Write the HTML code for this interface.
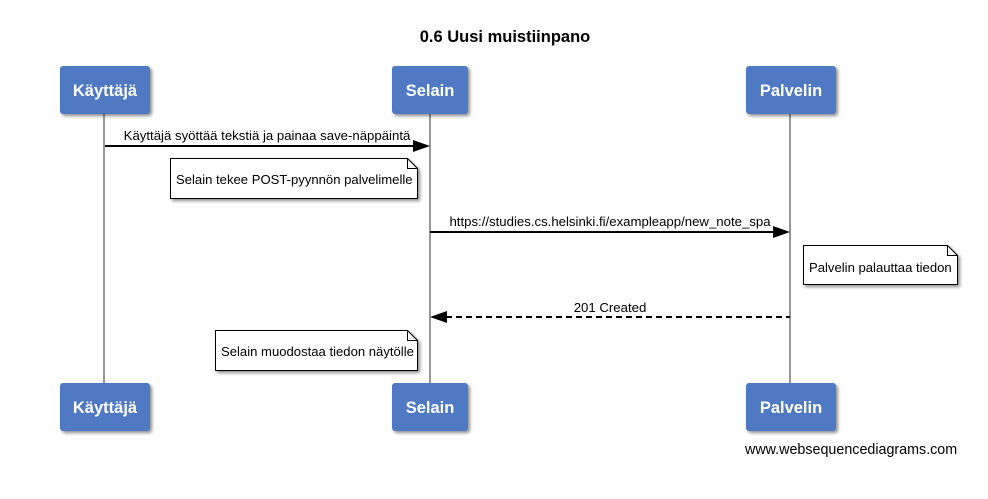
<!DOCTYPE html>
<html><head><meta charset="utf-8"><style>body{margin:0;background:#fff}svg{display:block}text{font-family:"Liberation Sans",sans-serif}</style></head><body>
<svg width="988" height="499" xmlns="http://www.w3.org/2000/svg">
<defs><filter id="s" x="-20%" y="-20%" width="150%" height="150%"><feDropShadow dx="2" dy="2" stdDeviation="1.5" flood-color="#000" flood-opacity="0.45"/></filter></defs>
<text x="505" y="42" font-size="16.5" font-weight="bold" text-anchor="middle">0.6 Uusi muistiinpano</text>
<g stroke="#999" stroke-width="2"><line x1="104" y1="114" x2="104" y2="383"/><line x1="430" y1="114" x2="430" y2="383"/><line x1="790" y1="114" x2="790" y2="383"/></g>
<g fill="#4f79c3" filter="url(#s)">
<rect x="60" y="66" width="90" height="48" rx="3"/><rect x="392" y="66" width="76" height="48" rx="3"/><rect x="746" y="66" width="90" height="48" rx="3"/>
<rect x="60" y="383" width="90" height="48" rx="3"/><rect x="392" y="383" width="76" height="48" rx="3"/><rect x="746" y="383" width="90" height="48" rx="3"/>
</g>
<g fill="#fff" font-size="16.5" font-weight="bold" text-anchor="middle">
<text x="105" y="96">Käyttäjä</text><text x="430" y="96">Selain</text><text x="791" y="96">Palvelin</text>
<text x="105" y="413">Käyttäjä</text><text x="430" y="413">Selain</text><text x="791" y="413">Palvelin</text>
</g>
<line x1="105" y1="146" x2="414" y2="146" stroke="#000" stroke-width="2"/><polygon points="430,146 413,140 413,152" fill="#000"/>
<text x="267" y="140" font-size="13.2" text-anchor="middle">Käyttäjä syöttää tekstiä ja painaa save-näppäintä</text>
<line x1="430" y1="232" x2="774" y2="232" stroke="#000" stroke-width="2"/><polygon points="790,232 773,226 773,238" fill="#000"/>
<text x="610" y="226" font-size="13.2" text-anchor="middle">https://studies.cs.helsinki.fi/exampleapp/new_note_spa</text>
<line x1="446" y1="317" x2="790" y2="317" stroke="#000" stroke-width="2" stroke-dasharray="6,4"/><polygon points="430,317 447,311 447,323" fill="#000"/>
<text x="610" y="312" font-size="13.2" text-anchor="middle">201 Created</text>
<g fill="#fff" stroke="#000" filter="url(#s)">
<path d="M170.5 158.5 H407.5 L417.5 168.5 V198.5 H170.5 Z"/>
<path d="M803.5 245.5 H947.5 L957.5 255.5 V284.5 H803.5 Z"/>
<path d="M215.5 330.5 H407.5 L417.5 340.5 V370.5 H215.5 Z"/>
</g>
<g fill="none" stroke="#000"><path d="M407.5 158.5 V168.5 H417.5"/><path d="M947.5 245.5 V255.5 H957.5"/><path d="M407.5 330.5 V340.5 H417.5"/></g>
<g font-size="13.1"><text x="176" y="184">Selain tekee POST-pyynnön palvelimelle</text><text x="809" y="272">Palvelin palauttaa tiedon</text><text x="221" y="356">Selain muodostaa tiedon näytölle</text></g>
<text x="745" y="454" font-size="14.3">www.websequencediagrams.com</text>
</svg>
</body></html>
